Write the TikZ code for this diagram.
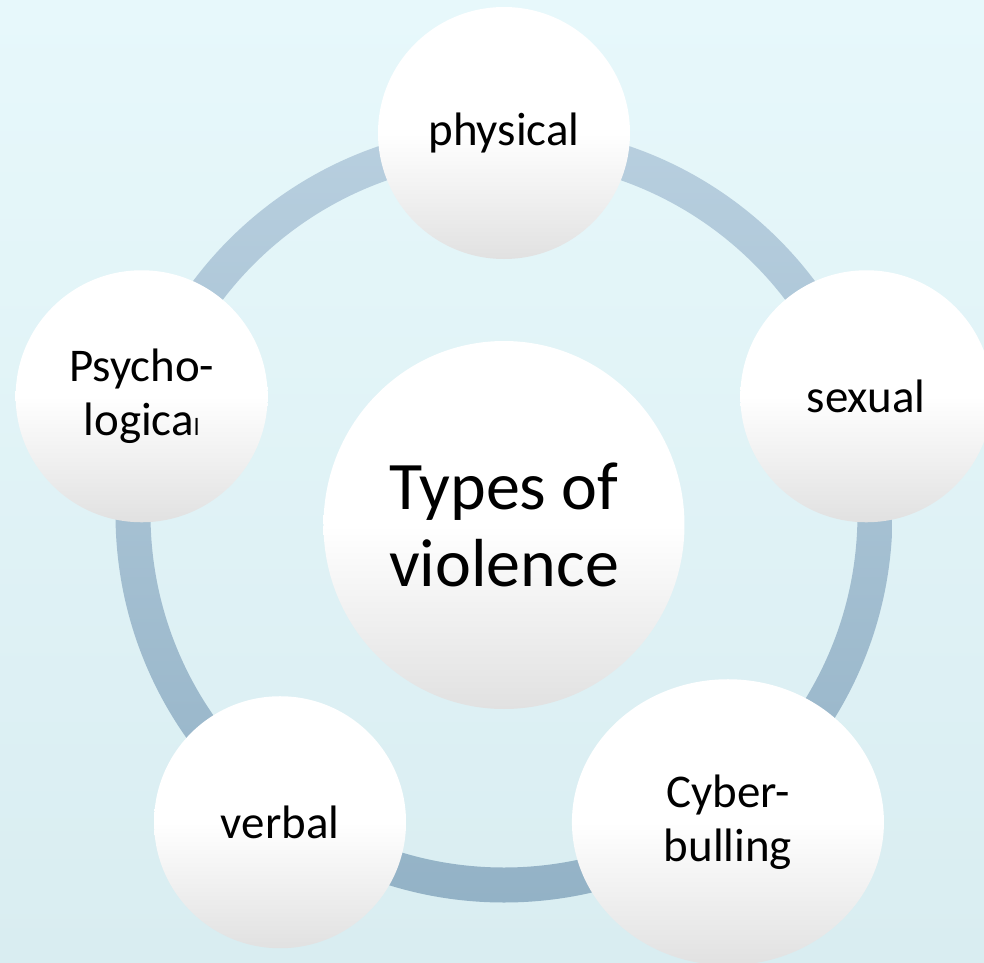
\documentclass[tikz,border=0pt]{standalone}
\usepackage{fontspec}
\setmainfont{Carlito}
\usetikzlibrary{shapes.geometric}
\definecolor{tvBgTop}{HTML}{E7F8FB}
\definecolor{tvBgBot}{HTML}{D9EDF1}
\definecolor{tvRingTop}{HTML}{B8CFDF}
\definecolor{tvRingBot}{HTML}{93B2C6}
\definecolor{tvBallBot}{HTML}{E1E1E1}
\tikzset{
  ball/.style={
    ellipse, inner sep=0pt, align=center,
    top color=white, bottom color=tvBallBot, middle color=white,
    font=\fontsize{26.7}{30.7}\selectfont
  },
  typenode/.style={ball, minimum width=5.04cm, minimum height=5.04cm},
  hubnode/.style={ball, minimum width=7.22cm, minimum height=7.36cm,
    font=\fontsize{38.7}{43.8}\selectfont},
  ring/.style={top color=tvRingTop, bottom color=tvRingBot, even odd rule}
}

\begin{document}
\begin{tikzpicture}
  \coordinate (nw) at (-10.08,10.28);
  \coordinate (se) at (9.6,-8.96);
  \useasboundingbox (nw) rectangle (se);
  \clip (nw) rectangle (se);
  \shade[top color=tvBgTop, bottom color=tvBgBot] (nw) rectangle (se);
  % the cycle ring behind the circles
  \shade[ring] (0,0) circle (7.77) (0,0) circle (7.07);
  \node[hubnode] (hub) at (0,-0.22) {Types of\\violence};
  \node[typenode] (phys) at (90:7.62) {physical};
  \node[typenode] (sex) at (18:7.62) {sexual};
  \node[typenode, minimum width=6.24cm, minimum height=5.72cm] (cyber) at (-54:7.62) {Cyber-\\bulling};
  \node[typenode] (verb) at (-126:7.62) {verbal};
  \node[typenode] (psych) at (162:7.62) {Psycho-\\logica{\fontsize{14}{14}\selectfont l}};
\end{tikzpicture}
\end{document}
